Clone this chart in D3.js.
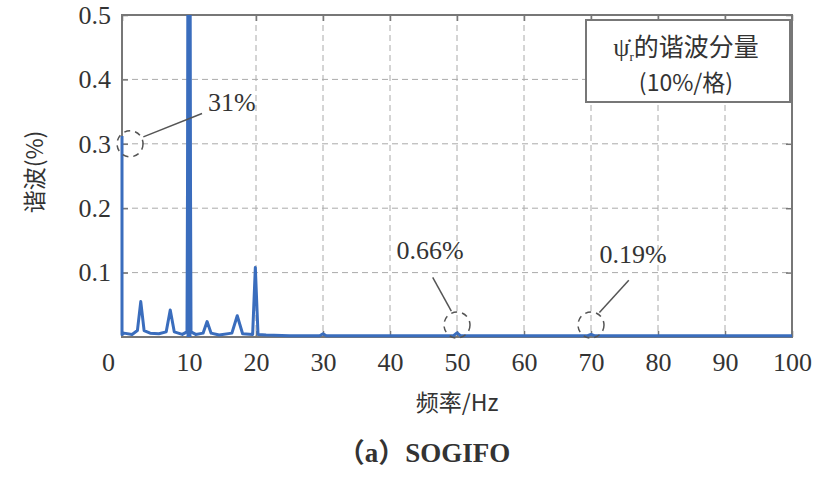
<!DOCTYPE html>
<html>
<head>
<meta charset="utf-8">
<script src="https://cdn.jsdelivr.net/npm/d3@7"></script>
<style>
  body { margin: 0; background: #fff; }
  text { font-family: "Liberation Serif", "Noto Sans CJK SC", serif; fill: #333; }
  .cjk { font-family: "Noto Sans CJK SC", sans-serif; }
</style>
</head>
<body>
<div id="chart"></div>
<script>
// spectrum sample points (Hz, per-unit amplitude)
const freqs = [0, 0, 0.3, 1.5, 2.3, 2.8, 3.3, 4.2, 5.5, 6.6, 7.2, 7.8, 9.0, 9.7, 10.0, 10.3, 11.0, 12.1, 12.7, 13.3, 14.5, 16.4, 17.2, 18.0, 19.5, 19.9, 20.3, 21.5, 25, 29.5, 30, 30.5, 40, 49.5, 50, 50.5, 60, 69.5, 70, 70.5, 80, 90, 100];
const amps  = [0.312, 0.004, 0.006, 0.004, 0.010, 0.055, 0.010, 0.006, 0.005, 0.008, 0.042, 0.008, 0.004, 0.008, 0.9, 0.008, 0.004, 0.006, 0.024, 0.006, 0.003, 0.006, 0.033, 0.005, 0.004, 0.108, 0.004, 0.003, 0.002, 0.002, 0.005, 0.002, 0.002, 0.002, 0.0066, 0.002, 0.002, 0.002, 0.0040, 0.002, 0.002, 0.002, 0.002];

const xTicks = [0, 10, 20, 30, 40, 50, 60, 70, 80, 90, 100];
const yTicks = [0.1, 0.2, 0.3, 0.4, 0.5];

// callouts: circled point (freq, amp) and label
const callouts = [
  { f: 1.2, a: 0.30, label: "31%", dx: 80, dy: -42, anchor: "start" },
  { f: 50, a: 0.0, label: "0.66%", dx: -27, dy: -66, anchor: "middle" },
  { f: 70, a: 0.0, label: "0.19%", dx: 42, dy: -62, anchor: "middle" }
];

const margin = { top: 15, right: 43, bottom: 154, left: 122 },
    width = 835 - margin.left - margin.right,
    height = 491 - margin.top - margin.bottom;

const svg = d3.select("#chart").append("svg")
    .attr("width", 835).attr("height", 491);
const g = svg.append("g").attr("transform", `translate(${margin.left},${margin.top})`);

const x = d3.scaleLinear().domain([0, 100]).range([0, width]);
const y = d3.scaleLinear().domain([0, 0.5]).range([height, 0]);

// grid
g.selectAll(".gx").data(xTicks.slice(1, -1)).enter().append("line")
    .attr("x1", d => x(d)).attr("x2", d => x(d)).attr("y1", 0).attr("y2", height)
    .attr("stroke", "#aaa").attr("stroke-width", 1).attr("stroke-dasharray", "6,4");
g.selectAll(".gy").data(yTicks.slice(0, -1)).enter().append("line")
    .attr("x1", 0).attr("x2", width).attr("y1", d => y(d)).attr("y2", d => y(d))
    .attr("stroke", "#aaa").attr("stroke-width", 1).attr("stroke-dasharray", "6,4");

// axes with inward ticks
const axB = g.append("g").attr("transform", `translate(0,${height})`)
    .call(d3.axisBottom(x).tickValues(xTicks).tickSize(-6).tickPadding(16).tickFormat(d3.format("d")));
const axL = g.append("g")
    .call(d3.axisLeft(y).tickValues(yTicks).tickSize(-6).tickPadding(11).tickFormat(d3.format(".1f")));
const axT = g.append("g").call(d3.axisTop(x).tickValues(xTicks).tickSize(-6).tickFormat(""));
const axR = g.append("g").attr("transform", `translate(${width},0)`)
    .call(d3.axisRight(y).tickValues(yTicks).tickSize(-6).tickFormat(""));
[axB, axL, axT, axR].forEach(a => {
  a.select(".domain").remove();
  a.selectAll("line").attr("stroke", "#777").attr("stroke-width", 1.5);
  a.selectAll("text").attr("font-size", 26).attr("fill", "#333")
    .style("font-family", "'Liberation Serif', serif");
});
// the "0" label sits a little left of the corner in the original
axB.selectAll(".tick text").filter(d => d === 0).attr("dx", -14);

// frame
g.append("rect").attr("width", width).attr("height", height)
    .attr("fill", "none").attr("stroke", "#777").attr("stroke-width", 2);

// spectrum
g.append("clipPath").attr("id", "clip").append("rect")
    .attr("x", -2).attr("y", 0).attr("width", width + 4).attr("height", height + 2);
const pts = freqs.map((f, i) => [f, amps[i]]);
g.append("path").datum(pts)
    .attr("clip-path", "url(#clip)")
    .attr("fill", "none").attr("stroke", "#3a6dbd").attr("stroke-width", 3)
    .attr("stroke-linejoin", "round")
    .attr("d", d3.line().x(d => x(d[0])).y(d => y(d[1])));
// the fundamental shows as a heavier bar
const peak = pts[d3.maxIndex(amps)];
g.append("line").attr("clip-path", "url(#clip)")
    .attr("x1", x(peak[0])).attr("x2", x(peak[0])).attr("y1", y(0)).attr("y2", y(peak[1]))
    .attr("stroke", "#3a6dbd").attr("stroke-width", 5);

// callouts
callouts.forEach(c => {
  const cx = x(c.f), cy = y(c.a) - (c.a === 0 ? 12 : 0);
  g.append("circle").attr("cx", cx).attr("cy", cy).attr("r", 13)
      .attr("fill", "none").attr("stroke", "#555").attr("stroke-width", 1.5)
      .attr("stroke-dasharray", "6,5");
  const ang = Math.atan2(c.dy, c.dx);
  const sx = cx + 15 * Math.cos(ang), sy = cy + 15 * Math.sin(ang);
  const ex = cx + c.dx * 0.9, ey = cy + c.dy * 0.72;
  g.append("line").attr("x1", sx).attr("y1", sy).attr("x2", ex).attr("y2", ey)
      .attr("stroke", "#555").attr("stroke-width", 1.5);
  g.append("text").attr("x", cx + c.dx - (c.anchor === "start" ? 2 : 0)).attr("y", cy + c.dy)
      .attr("text-anchor", c.anchor).attr("font-size", 26).text(c.label)
      .attr("dy", c.anchor === "start" ? "0.35em" : "0em");
});

// legend box
const lg = g.append("g").attr("transform", `translate(${width - 206},5)`);
lg.append("rect").attr("width", 204).attr("height", 82)
    .attr("fill", "#fff").attr("stroke", "#777").attr("stroke-width", 2);
const t1 = lg.append("text").attr("x", 100).attr("y", 36).attr("text-anchor", "middle")
    .attr("font-size", 26);
t1.append("tspan").text("ψ̇");
t1.append("tspan").attr("font-size", 13).attr("dy", 5).text("r");
t1.append("tspan").attr("class", "cjk").attr("dy", -5).attr("font-size", 25).text("的谐波分量");
lg.append("text").attr("x", 100).attr("y", 71).attr("text-anchor", "middle")
    .attr("font-size", 23).attr("class", "cjk").text("(10%/格)");

// axis titles
svg.append("text").attr("class", "cjk").attr("font-size", 23)
    .attr("text-anchor", "middle")
    .attr("transform", `translate(43,172) rotate(-90)`)
    .text("谐波(%)");
svg.append("text").attr("class", "cjk").attr("font-size", 23)
    .attr("x", margin.left + width / 2).attr("y", 411).attr("text-anchor", "middle")
    .text("频率/Hz");

// caption
svg.append("text").attr("font-size", 27).attr("font-weight", "bold").attr("x", 424).attr("y", 462)
    .attr("text-anchor", "middle")
    .text("（a）SOGIFO");
</script>
</body>
</html>
